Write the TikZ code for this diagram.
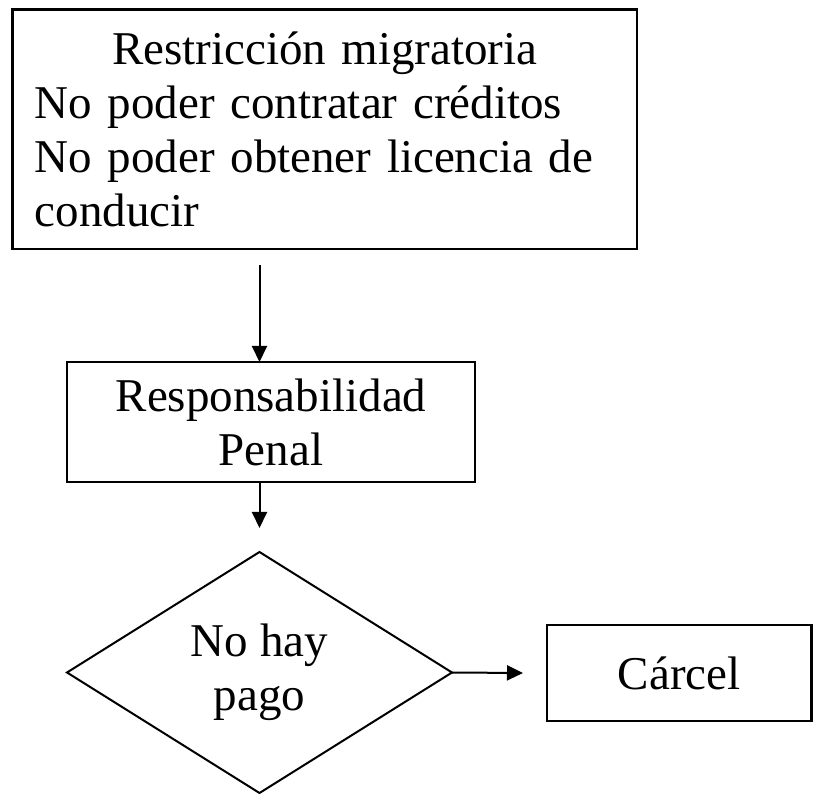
\documentclass[tikz,border=0pt]{standalone}
\usepackage{fontspec}
\setmainfont{Liberation Serif}
\usetikzlibrary{shapes.geometric,arrows.meta}
\tikzset{
  box/.style={draw, line width=2.4pt, inner sep=0pt, outer sep=0pt, align=center,
    font=\fontsize{47}{54}\selectfont},
  dia/.style={draw, diamond, line width=2pt, inner sep=0pt, outer sep=0pt, align=center,
    font=\fontsize{47}{54}\selectfont},
  conn/.style={line width=2pt, -{Triangle[length=16pt,width=15pt]}},
}
\begin{document}
\begin{tikzpicture}[x=1pt,y=-1pt]
\useasboundingbox (0,0) rectangle (815,794);
\node[box, minimum width=624.5pt, minimum height=239.5pt, text width=580pt, align=left]
  (top) at (324.75,129.25)
  {\makebox[\hsize]{Restricción migratoria}\\No poder contratar créditos\\No poder obtener licencia de\\conducir};
\node[box, minimum width=408pt, minimum height=120pt] (resp) at (271,422) {Responsabilidad\\Penal};
\node[dia, minimum width=385pt, minimum height=241pt] (pago) at (259.5,672.5) {No hay\\pago};
\node[box, minimum width=264.5pt, minimum height=96pt] (carcel) at (679.25,673) {Cárcel};
\draw[conn] ([yshift=-16pt]top.south -| pago.north) -- (resp.north -| pago.north);
\draw[conn] (resp.south -| pago.north) -- ([yshift=24pt]pago.north);
\draw[conn] (pago.east) -- ([xshift=-24pt]carcel.west);
\end{tikzpicture}
\end{document}
